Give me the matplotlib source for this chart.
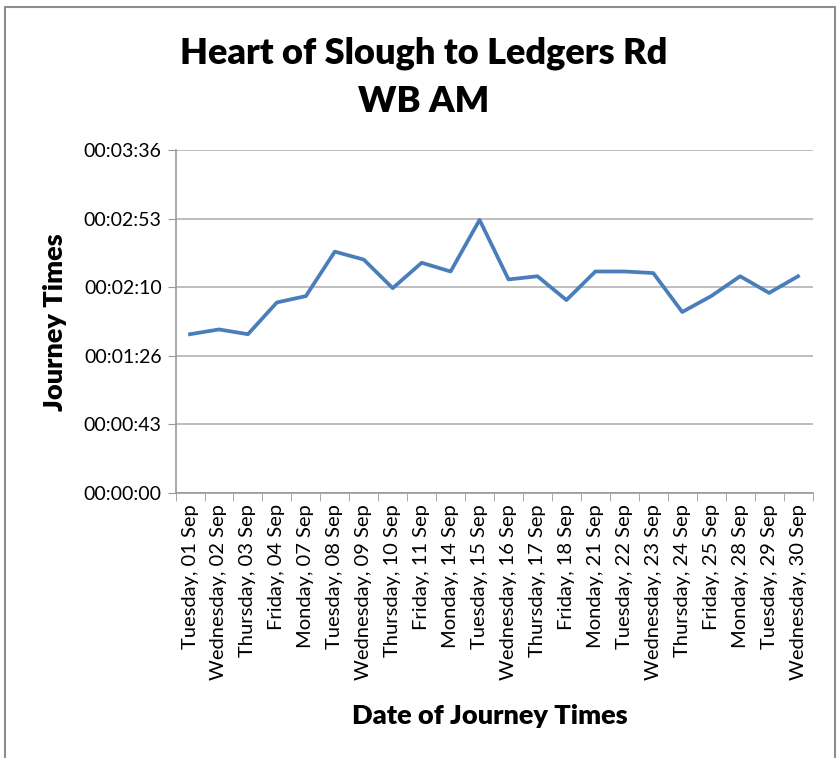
import matplotlib.pyplot as plt
from matplotlib.lines import Line2D
from matplotlib.ticker import FuncFormatter

dates = ['Tuesday, 01 Sep', 'Wednesday, 02 Sep', 'Thursday, 03 Sep', 'Friday, 04 Sep',
         'Monday, 07 Sep', 'Tuesday, 08 Sep', 'Wednesday, 09 Sep', 'Thursday, 10 Sep',
         'Friday, 11 Sep', 'Monday, 14 Sep', 'Tuesday, 15 Sep', 'Wednesday, 16 Sep',
         'Thursday, 17 Sep', 'Friday, 18 Sep', 'Monday, 21 Sep', 'Tuesday, 22 Sep',
         'Wednesday, 23 Sep', 'Thursday, 24 Sep', 'Friday, 25 Sep', 'Monday, 28 Sep',
         'Tuesday, 29 Sep', 'Wednesday, 30 Sep']
# journey times in seconds
journey_secs = [100, 103, 100, 120, 124, 152, 147, 129, 145, 139.5, 172,
                134.5, 136.5, 121.5, 139.5, 139.5, 138.5, 114, 124, 136.5, 126, 136.5]
ytick_secs = [0, 43.2, 86.4, 129.6, 172.8, 216]

plt.rcParams['font.family'] = ['Lato', 'DejaVu Sans']

def hms(v, pos=None):
    s = int(round(v))
    return '%02d:%02d:%02d' % (s // 3600, (s % 3600) // 60, s % 60)

fig = plt.figure(figsize=(8.38, 7.58), dpi=100)
ax = fig.add_axes([0.2095, 0.3496, 0.7601, 0.4525])

x = list(range(len(dates)))
ax.plot(x, journey_secs, color='#4A7EBB', lw=2.7, solid_joinstyle='round')

ax.set_xlim(-0.5, len(dates) - 0.5)
ax.set_ylim(0, 216)
ax.set_yticks(ytick_secs)
ax.yaxis.set_major_formatter(FuncFormatter(hms))
ax.grid(axis='y', color='#b3b3b3', lw=1.2)
ax.set_axisbelow(True)

# category labels centred, ticks at category boundaries
ax.set_xticks(x)
ax.set_xticklabels(dates, rotation=90, fontsize=14.5)
ax.set_xticks([i - 0.5 for i in range(len(dates) + 1)], minor=True)
ax.tick_params(axis='x', which='major', length=0, pad=8)
ax.tick_params(axis='x', which='minor', length=6, color='#999999', direction='out')
ax.tick_params(axis='y', length=6, color='#999999', labelsize=14, pad=4)

for side in ['top', 'right']:
    ax.spines[side].set_visible(False)
for side in ['left', 'bottom']:
    ax.spines[side].set_color('#999999')
    ax.spines[side].set_linewidth(1.2)

fig.text(0.505, 0.930, 'Heart of Slough to Ledgers Rd', ha='center', va='center',
         fontsize=26, fontweight='heavy')
fig.text(0.505, 0.866, 'WB AM', ha='center', va='center', fontsize=26, fontweight='heavy')
fig.text(0.066, 0.575, 'Journey Times', rotation=90, ha='center', va='center',
         fontsize=19.5, fontweight='heavy')
fig.text(0.585, 0.055, 'Date of Journey Times', ha='center', va='center',
         fontsize=19.5, fontweight='heavy')

# chart frame
fx = [5 / 838, 5 / 838, 835 / 838, 835 / 838]
fy = [0.0, 1 - 7 / 758, 1 - 7 / 758, 0.0]
fig.add_artist(Line2D(fx, fy, color='#8c8c8c', lw=1.5, transform=fig.transFigure))

fig.savefig('out.png', dpi=100)
